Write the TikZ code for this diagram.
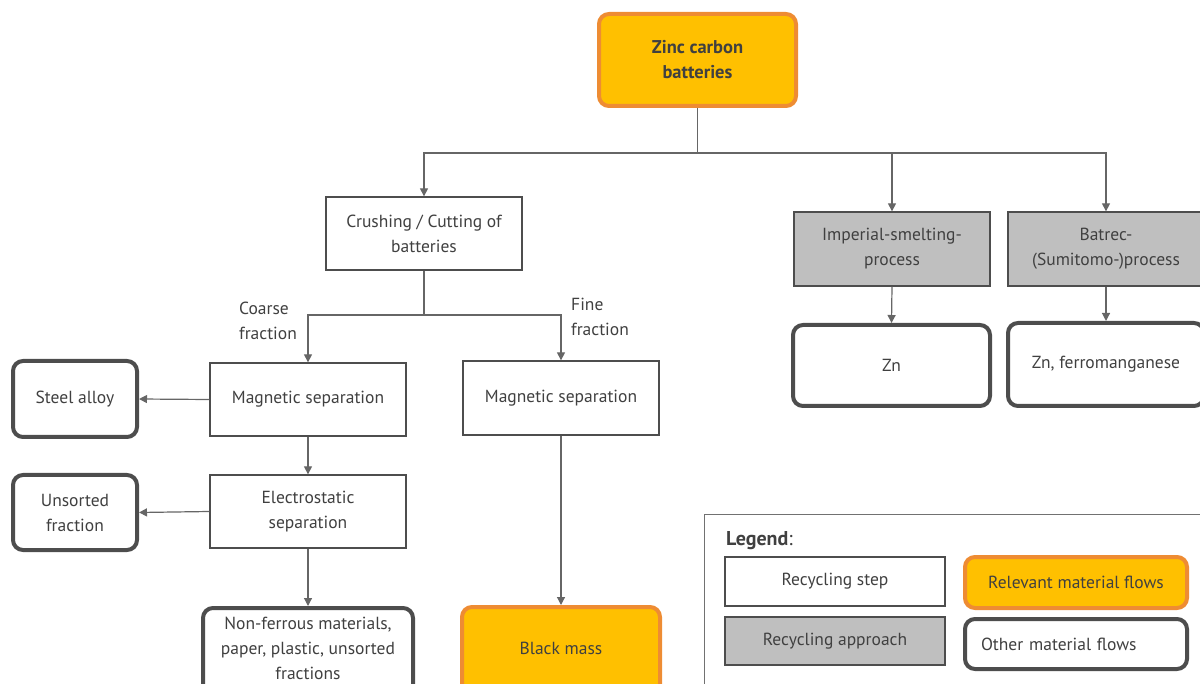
\documentclass[tikz,border=0pt]{standalone}
\usepackage{fontspec}
\setmainfont{PT Sans}
\usetikzlibrary{arrows.meta}
\definecolor{txt}{HTML}{404040}
\definecolor{wire}{HTML}{666666}
\definecolor{gold}{HTML}{FFC000}
\definecolor{amber}{HTML}{EE8C33}
\definecolor{slate}{HTML}{4D4D4D}
\definecolor{greyfill}{HTML}{BFBFBF}
\tikzset{
  every node/.style={text=txt, font=\fontsize{17.5}{25}\selectfont},
  stepbox/.style={draw=slate, line width=1.3pt, fill=white, align=center, inner sep=0pt},
  approachbox/.style={stepbox, fill=greyfill},
  relevant/.style={draw=amber, line width=4pt, fill=gold, rounded corners=10pt, align=center, inner sep=0pt},
  otherflow/.style={draw=slate, line width=4pt, fill=white, rounded corners=10pt, align=center, inner sep=0pt},
  flow/.style={draw=wire, line width=1.2pt, -{Triangle[length=8pt,width=8pt]}, color=wire},
  plain/.style={draw=wire, line width=1.2pt},
  lbl/.style={align=left, inner sep=0pt, anchor=north west},
}
\begin{document}
\begin{tikzpicture}[x=1pt, y=-1pt]
\useasboundingbox (0,0) rectangle (1200,684);
\clip (0,0) rectangle (1200,684);

% source
\node[relevant, minimum width=197pt, minimum height=92pt, font=\bfseries\fontsize{18.5}{25}\selectfont] (zinc) at (697.5,60) {Zinc carbon\\batteries};

% recycling steps and approaches
\node[stepbox, minimum width=196pt, minimum height=73pt] (crush) at (424,233.5) {Crushing / Cutting of\\batteries};
\node[approachbox, minimum width=196pt, minimum height=74pt] (imperial) at (892,249) {Imperial-smelting-\\process};
\node[approachbox, minimum width=196pt, minimum height=74pt] (batrec) at (1106,249) {Batrec-\\(Sumitomo-)process};
\node[stepbox, minimum width=196pt, minimum height=73pt] (magL) at (308,399.5) {Magnetic separation};
\node[stepbox, minimum width=196pt, minimum height=74pt] (magR) at (561,398) {Magnetic separation};
\node[stepbox, minimum width=196pt, minimum height=73pt] (elec) at (308,511.5) {Electrostatic\\separation};

% outputs
\node[otherflow, minimum width=197pt, minimum height=81pt] (zn) at (891.5,365.5) {Zn};
\node[otherflow, minimum width=196pt, minimum height=83pt] (znfe) at (1106,364.5) {Zn, ferromanganese};
\node[otherflow, minimum width=124pt, minimum height=76pt] (steel) at (75,399) {Steel alloy};
\node[otherflow, minimum width=124pt, minimum height=75pt] (unsorted) at (75,512.5) {Unsorted\\fraction};
\node[otherflow, minimum width=210pt, minimum height=100pt, anchor=north] (nonfe) at (308,606) {};
\node[align=center, inner sep=0pt] (nonfetxt) at (308,648) {Non-ferrous materials,\\paper, plastic, unsorted\\fractions};
\node[relevant, minimum width=198pt, minimum height=100pt, anchor=north] (black) at (561,605) {};
\node[inner sep=0pt] (blacktxt) at (561,648) {Black mass};

% branch points
\coordinate (j1) at (697.5,153);
\coordinate (j2) at (424,315);

\draw[plain] (zinc.south) -- (j1);
\draw[flow] (j1) -| (crush.north);
\draw[flow] (j1) -| (imperial.north);
\draw[flow] (j1) -| (batrec.north);

\draw[plain] (crush.south) -- (j2);
\draw[flow] (j2) -| (magL.north);
\draw[flow] (j2) -| (magR.north);

\node[lbl] (coarse) at (239,302) {Coarse\\fraction};
\node[lbl] (fine) at (571,298) {Fine\\fraction};

\draw[flow] (magL.west) -- (steel.east);
\draw[flow] (magL.south) -- (elec.north);
\draw[flow] (elec.west) -- (unsorted.east);
\draw[flow] (elec.south) -- (nonfe.north);
\draw[flow] (magR.south) -- (black.north);
\draw[flow] (imperial.south) -- (zn.north);
\draw[flow] (batrec.south) -- (znfe.north);

% legend
\node[draw=slate!80, line width=1.3pt, fill=white, minimum width=520pt, minimum height=200pt, anchor=north west] (legend) at (704,514) {};
\node[anchor=base west, inner sep=0pt] (legendtitle) at (726,545) {\fontsize{20}{25}\selectfont\bfseries Legend\mdseries:};
\node[stepbox, minimum width=220pt, minimum height=49pt] (lstep) at (835,581.5) {Recycling step};
\node[approachbox, minimum width=220pt, minimum height=48pt] (lapproach) at (835,641) {Recycling approach};
\node[relevant, minimum width=222pt, minimum height=51pt] (lrelevant) at (1076,582.5) {Relevant material flows};
\node[otherflow, minimum width=222pt, minimum height=50pt, text width=190pt, align=left, inner xsep=16pt] (lother) at (1076,644) {Other material flows};
\end{tikzpicture}
\end{document}
